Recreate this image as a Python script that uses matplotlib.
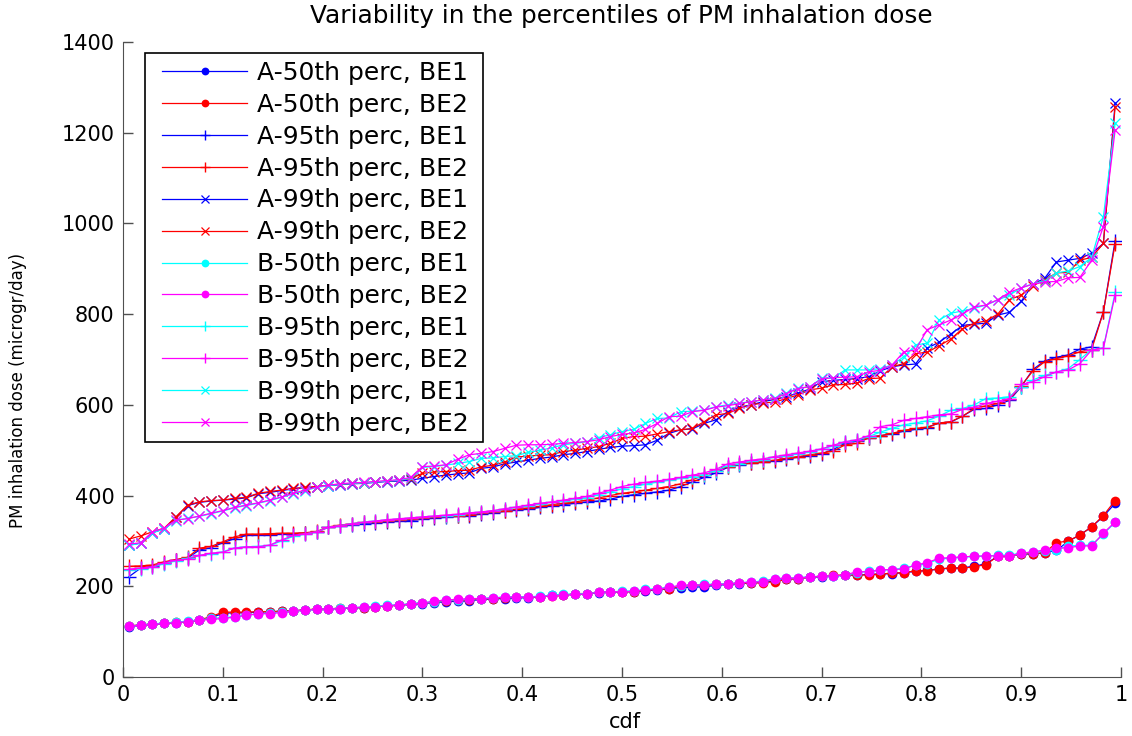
import numpy as np
import matplotlib
matplotlib.use('Agg')
from matplotlib import pyplot as plt
from matplotlib.patches import Rectangle

# points de la cdf (85 points)
n_pts = 85
cdf = (np.arange(1, n_pts + 1) - 0.5) / n_pts

# 50e percentile
A50_BE1 = [111, 114, 116, 118, 120, 122, 125, 131, 140, 142,
           142, 143, 144, 145, 146, 148, 149, 150, 151, 152,
           153, 155, 157, 158, 160, 162, 164, 166, 167, 168,
           171, 172, 173, 174, 175, 177, 180, 181, 182, 183,
           186, 187, 188, 188, 190, 192, 195, 197, 198, 199,
           202, 204, 206, 207, 209, 212, 216, 217, 220, 221,
           223, 224, 225, 226, 227, 228, 230, 233, 235, 238,
           240, 241, 244, 250, 266, 267, 271, 271, 274, 279,
           299, 313, 331, 354, 383]
A50_BE2 = [113, 115, 117, 118, 121, 122, 126, 133, 143, 143,
           143, 144, 144, 145, 146, 148, 150, 150, 152, 153,
           153, 155, 157, 158, 161, 163, 165, 168, 169, 170,
           172, 173, 175, 176, 176, 177, 179, 180, 184, 184,
           187, 188, 188, 188, 191, 193, 195, 200, 202, 203,
           204, 205, 207, 207, 208, 210, 215, 217, 220, 222,
           224, 225, 225, 225, 227, 229, 230, 234, 234, 239,
           240, 240, 243, 248, 266, 267, 272, 272, 274, 296,
           300, 313, 331, 356, 389]
B50_BE1 = [112, 115, 117, 119, 121, 123, 126, 129, 131, 133,
           137, 139, 141, 143, 145, 147, 149, 150, 152, 153,
           154, 156, 158, 159, 162, 164, 166, 169, 170, 172,
           173, 175, 176, 177, 177, 178, 180, 182, 183, 184,
           187, 188, 189, 190, 193, 195, 198, 201, 203, 204,
           205, 206, 208, 209, 212, 216, 218, 219, 221, 222,
           223, 224, 230, 233, 235, 237, 240, 246, 250, 260,
           262, 264, 266, 267, 268, 269, 273, 275, 278, 280,
           289, 290, 291, 315, 341]
B50_BE2 = [112, 114, 116, 118, 120, 122, 125, 127, 129, 132,
           136, 139, 140, 142, 145, 147, 149, 150, 151, 153,
           154, 155, 157, 159, 161, 163, 167, 170, 171, 173,
           173, 174, 176, 176, 176, 177, 179, 180, 182, 183,
           187, 188, 188, 189, 192, 193, 198, 202, 203, 203,
           204, 205, 208, 209, 210, 217, 218, 218, 221, 222,
           223, 225, 232, 232, 236, 237, 238, 247, 252, 262,
           263, 265, 266, 267, 267, 267, 273, 276, 280, 284,
           285, 289, 289, 317, 342]

# 95e percentile
A95_BE1 = [221, 240, 244, 252, 258, 262, 280, 285, 296, 305,
           312, 313, 314, 315, 316, 317, 320, 330, 333, 336,
           338, 340, 342, 343, 345, 348, 350, 352, 354, 356,
           359, 362, 365, 368, 370, 374, 377, 380, 383, 386,
           388, 392, 398, 402, 405, 408, 412, 420, 430, 440,
           450, 462, 468, 472, 474, 476, 480, 485, 488, 492,
           502, 515, 520, 528, 532, 536, 542, 546, 550, 560,
           562, 575, 590, 592, 600, 610, 640, 678, 697, 705,
           710, 723, 728, 805, 962]
A95_BE2 = [244, 245, 247, 254, 259, 264, 284, 288, 298, 309,
           315, 315, 316, 317, 317, 318, 321, 331, 335, 338,
           341, 342, 345, 346, 348, 350, 352, 354, 356, 358,
           361, 364, 367, 370, 373, 376, 380, 383, 386, 390,
           395, 400, 405, 408, 412, 416, 420, 426, 435, 445,
           455, 464, 469, 472, 475, 478, 482, 486, 490, 494,
           498, 512, 515, 527, 532, 537, 544, 548, 551, 560,
           563, 575, 592, 598, 603, 612, 642, 675, 695, 702,
           708, 717, 722, 805, 955]
B95_BE1 = [235, 238, 242, 250, 256, 262, 268, 272, 276, 285,
           287, 288, 290, 300, 310, 315, 320, 330, 334, 338,
           341, 344, 346, 348, 350, 352, 354, 356, 358, 361,
           363, 366, 370, 374, 378, 382, 385, 388, 392, 395,
           402, 408, 415, 420, 425, 430, 434, 438, 442, 446,
           455, 466, 470, 476, 479, 485, 488, 492, 497, 502,
           510, 518, 522, 530, 540, 548, 556, 560, 565, 575,
           588, 592, 600, 614, 615, 618, 640, 655, 665, 672,
           680, 700, 722, 726, 848]
B95_BE2 = [238, 240, 243, 252, 257, 260, 268, 273, 275, 284,
           287, 287, 291, 302, 312, 316, 320, 330, 334, 338,
           341, 344, 347, 349, 351, 353, 355, 357, 359, 362,
           364, 367, 371, 375, 379, 383, 386, 390, 394, 398,
           405, 412, 420, 425, 429, 432, 436, 440, 445, 450,
           458, 470, 474, 478, 481, 486, 490, 494, 498, 503,
           511, 519, 523, 532, 552, 556, 566, 570, 574, 578,
           580, 590, 595, 603, 608, 614, 645, 651, 662, 673,
           677, 691, 721, 725, 842]

# 99e percentile
A99_BE1 = [291, 295, 318, 327, 352, 378, 385, 388, 390, 392,
           395, 404, 407, 411, 415, 417, 419, 422, 424, 426,
           427, 429, 431, 432, 434, 438, 442, 445, 448, 450,
           460, 463, 470, 474, 478, 482, 485, 490, 493, 497,
           502, 506, 509, 510, 512, 522, 537, 545, 547, 559,
           567, 585, 595, 600, 607, 612, 618, 626, 635, 651,
           654, 656, 658, 662, 675, 684, 688, 690, 725, 738,
           756, 775, 778, 780, 798, 804, 828, 866, 879, 915,
           919, 923, 934, 956, 1265]
A99_BE2 = [304, 311, 320, 328, 353, 379, 386, 389, 390, 394,
           396, 405, 409, 412, 416, 418, 420, 423, 425, 427,
           428, 430, 432, 434, 437, 449, 452, 453, 455, 456,
           463, 467, 474, 485, 487, 489, 490, 497, 500, 504,
           508, 515, 526, 530, 531, 536, 541, 545, 548, 563,
           578, 581, 592, 600, 604, 606, 614, 622, 633, 637,
           644, 645, 648, 658, 659, 684, 691, 713, 716, 730,
           745, 768, 780, 785, 800, 832, 842, 863, 875, 891,
           892, 919, 925, 956, 1257]
B99_BE1 = [290, 295, 318, 326, 345, 350, 354, 360, 366, 373,
           378, 383, 389, 396, 404, 411, 418, 422, 425, 427,
           428, 430, 432, 434, 438, 462, 464, 467, 471, 475,
           482, 483, 486, 488, 495, 500, 505, 512, 515, 519,
           528, 534, 541, 546, 559, 570, 571, 585, 586, 589,
           596, 600, 604, 607, 611, 615, 626, 637, 640, 659,
           659, 677, 677, 677, 680, 688, 706, 732, 736, 787,
           802, 807, 813, 820, 831, 842, 858, 867, 873, 891,
           895, 905, 925, 1015, 1221]
B99_BE2 = [293, 296, 320, 328, 346, 349, 355, 361, 367, 374,
           379, 384, 390, 397, 405, 412, 419, 423, 426, 428,
           429, 431, 433, 435, 440, 464, 465, 468, 480, 490,
           493, 497, 504, 511, 512, 512, 513, 515, 517, 519,
           523, 530, 535, 538, 546, 559, 574, 575, 585, 588,
           595, 598, 603, 607, 611, 614, 625, 636, 640, 657,
           660, 661, 662, 673, 676, 688, 717, 721, 766, 776,
           787, 800, 816, 820, 832, 848, 858, 866, 871, 872,
           880, 881, 919, 993, 1206]

BLEU, ROUGE, CYAN, MAGENTA = '#0000ff', '#ff0000', '#00ffff', '#ff00ff'

series = [
    ('A-50th perc, BE1', A50_BE1, BLEU, 'o'),
    ('A-50th perc, BE2', A50_BE2, ROUGE, 'o'),
    ('A-95th perc, BE1', A95_BE1, BLEU, '+'),
    ('A-95th perc, BE2', A95_BE2, ROUGE, '+'),
    ('A-99th perc, BE1', A99_BE1, BLEU, 'x'),
    ('A-99th perc, BE2', A99_BE2, ROUGE, 'x'),
    ('B-50th perc, BE1', B50_BE1, CYAN, 'o'),
    ('B-50th perc, BE2', B50_BE2, MAGENTA, 'o'),
    ('B-95th perc, BE1', B95_BE1, CYAN, '+'),
    ('B-95th perc, BE2', B95_BE2, MAGENTA, '+'),
    ('B-99th perc, BE1', B99_BE1, CYAN, 'x'),
    ('B-99th perc, BE2', B99_BE2, MAGENTA, 'x'),
]

W, H = 1132, 736
fig = plt.figure(figsize=(W / 100, H / 100), dpi=100)
ax = fig.add_axes([123 / W, 59 / H, 998 / W, 635 / H])

for nom, vals, coul, mk in series:
    if mk == 'o':
        ax.plot(cdf, vals, color=coul, lw=0.9, marker='o', ms=7, mew=0, label=nom)
    elif mk == '+':
        ax.plot(cdf, vals, color=coul, lw=0.9, marker='+', ms=9.5, mew=1, label=nom)
    else:
        ax.plot(cdf, vals, color=coul, lw=0.9, marker='x', ms=7, mew=0.9, label=nom)

ax.set_xlim(0, 1)
ax.set_ylim(0, 1400)
ax.set_xticks(np.arange(0, 1.01, 0.1))
ax.set_xticklabels(['0', '0.1', '0.2', '0.3', '0.4', '0.5', '0.6', '0.7', '0.8', '0.9', '1'])
ax.set_yticks(np.arange(0, 1401, 200))
ax.spines['top'].set_visible(False)
ax.spines['right'].set_visible(False)
for s in ['left', 'bottom']:
    ax.spines[s].set_color('#505050')
ax.tick_params(direction='in', length=7, width=1, color='#505050', labelsize=15, pad=6)

fig.text(621 / W, 1 - 16 / H, 'Variability in the percentiles of PM inhalation dose',
         ha='center', va='center', fontsize=17.8)
fig.text(18 / W, 1 - 390 / H, 'PM inhalation dose (microgr/day)', rotation=90,
         ha='center', va='center', fontsize=12)
fig.text(625 / W, 1 - 722 / H, 'cdf', ha='center', va='center', fontsize=15)

# legende sans cadre + rectangle
leg = ax.legend(loc='upper left', bbox_to_anchor=(162 / W, 1 - 61 / H),
                bbox_transform=fig.transFigure, frameon=False, fontsize=18,
                handlelength=3.4, handletextpad=0.4, labelspacing=0.315,
                borderpad=0, borderaxespad=0, numpoints=1, markerscale=0.8)
fig.add_artist(Rectangle((145 / W, 1 - 442 / H), 338 / W, 389 / H,
                         transform=fig.transFigure, fill=False, ec='k', lw=1.2))

plt.savefig('out.png', dpi=100)
